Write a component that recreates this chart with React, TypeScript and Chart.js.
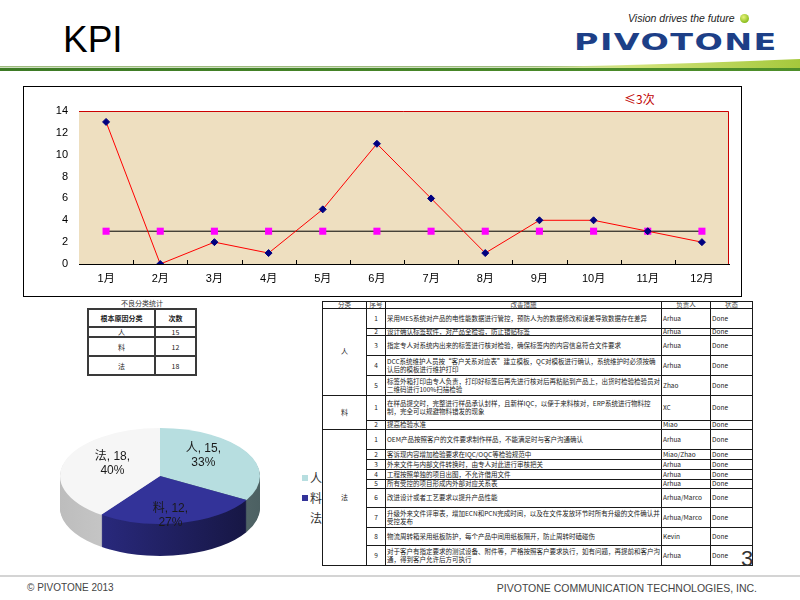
import React, { useEffect, useRef } from "react";
import { Chart, registerables } from "chart.js";
Chart.register(...registerables);

// ---------------- data ----------------
const months = ["1月", "2月", "3月", "4月", "5月", "6月", "7月", "8月", "9月", "10月", "11月", "12月"];
const defectCounts = [13, 0, 2, 1, 5, 11, 6, 1, 4, 4, 3, 2];
const targetCounts = [3, 3, 3, 3, 3, 3, 3, 3, 3, 3, 3, 3];
const targetLabel = "≤3次";
const defectLabel = "不良次数";
const yMin = 0;
const yMax = 14;
const yStep = 2;

const causeCategories = ["人", "料", "法"];
const causeCounts = [15, 12, 18];
const summaryTitle = "不良分类统计";
const summaryHeader = ["根本原因分类", "次数"];

const actionHeader = ["分类", "序号", "改善措施", "负责人", "状态"];
const actionGroupSizes = [5, 2, 9];
const actionNos = ["1", "2", "3", "4", "5", "1", "2", "1", "2", "3", "4", "5", "6", "7", "8", "9"];
const actionTexts = [
  "采用MES系统对产品的电性能数据进行管控，预防人为的数据修改和误差导致数据存在差异",
  "设计确认标签软件，对产品全检验，防止错贴标签",
  "指定专人对系统内出来的标签进行核对检验，确保标签内的内容信息符合文件要求",
  "DCC系统维护人员按“客户关系对应表”建立模板，QC对模板进行确认，系统维护时必须按确认后的模板进行维护打印",
  "标签外箱打印由专人负责，打印好标签后再先进行核对后再粘贴到产品上，出货时检验检验员对二维码进行100%扫描检验",
  "在样品提交时，完整进行样品承认封样，且新样IQC，以便于来料核对，ERP系统进行物料控制，完全可以规避物料错发的现象",
  "提高检验水准",
  "OEM产品按照客户的文件要求制作样品，不能满足时与客户沟通确认",
  "客诉现内容增加检验要求在IQC/OQC等检验规范中",
  "外来文件与内部文件转换时，由专人对此进行审核把关",
  "工程按照单独的项目出图，不允许借用文件",
  "所有受控的项目形成内外部对应关系表",
  "改进设计或者工艺要求以提升产品性能",
  "升级外来文件评审表，增加ECN和PCN完成时间，以及在文件发放环节时所有升级的文件确认并受控发布",
  "物流周转箱采用纸板防护，每个产品中间用纸板隔开，防止周转时磕碰伤",
  "对于客户有指定要求的测试设备、附件等，严格按照客户要求执行，如有问题，再提前和客户沟通，得到客户允许后方可执行",
];
const actionOwners = [
  "Arhua", "Arhua", "Arhua", "Arhua", "Zhao",
  "XC", "Miao",
  "Arhua", "Miao/Zhao", "Arhua", "Arhua", "Arhua", "Arhua/Marco", "Arhua/Marco", "Kevin", "Arhua",
];
const actionStatus = [
  "Done", "Done", "Done", "Done", "Done",
  "Done", "Done",
  "Done", "Done", "Done", "Done", "Done", "Done", "Done", "Done", "Done",
];

// ---------------- styles / layout ----------------
const SANS = '"Liberation Sans", Arial, "Noto Sans CJK SC", sans-serif';
const CJK = '"Noto Sans CJK SC", "Liberation Sans", sans-serif';
const PLOT_BG = "#EEDFC0";
const PIE_TOP = ["#B7DEE0", "#333399", "#F6F6F6"];
const PIE_SIDE_L = ["#7F9A9C", "#2E2E8C", "#BDBDBD"];
const PIE_SIDE_R = ["#4C6062", "#15153F", "#E2E2E2"];
const PIE_TILT = 0.48;
const PIE_DEPTH = 32;

const BT_X = [322, 367, 386, 662, 711, 753];
const BT_TOP = 301;
const BT_ROWH = [7, 20, 7, 20, 20, 20, 25, 9, 20, 10, 10, 10, 9, 19, 20, 18, 20];
const ST_X = [87, 156, 197];
const ST_Y = [308, 328, 338, 357, 376];

function LineChart() {
  const ref = useRef<HTMLCanvasElement>(null);
  useEffect(() => {
    const plotBg = {
      id: "plotBg",
      beforeDatasetsDraw(chart: any) {
        const { ctx, chartArea: a } = chart;
        ctx.save();
        ctx.fillStyle = PLOT_BG;
        ctx.fillRect(a.left, a.top, a.right - a.left, a.bottom - a.top);
        ctx.strokeStyle = "#CC0000";
        ctx.lineWidth = 1;
        ctx.beginPath();
        ctx.moveTo(a.left, a.top + 0.5);
        ctx.lineTo(a.right - 0.5, a.top + 0.5);
        ctx.lineTo(a.right - 0.5, a.bottom);
        ctx.stroke();
        // inward tick marks at category boundaries
        const xs = chart.scales.x;
        ctx.strokeStyle = "#000";
        ctx.beginPath();
        for (let i = 1; i < months.length; i++) {
          const px = Math.round(xs.getPixelForValue(i - 0.5)) + 0.5;
          ctx.moveTo(px, a.bottom);
          ctx.lineTo(px, a.bottom - 4);
        }
        ctx.stroke();
        ctx.restore();
      },
    };
    const chart = new Chart(ref.current!, {
      type: "line",
      data: {
        labels: months,
        datasets: [
          {
            label: defectLabel,
            data: defectCounts,
            borderColor: "#FF0000",
            borderWidth: 1,
            pointStyle: "rectRot",
            pointRadius: 3.5,
            pointBackgroundColor: "#000080",
            pointBorderColor: "#000080",
            pointBorderWidth: 1,
            tension: 0,
            fill: false,
          },
          {
            label: targetLabel,
            data: targetCounts,
            borderColor: "#000000",
            borderWidth: 1,
            pointStyle: "rect",
            pointRadius: 5,
            pointBackgroundColor: "#FF00FF",
            pointBorderColor: "#FF00FF",
            pointBorderWidth: 0,
            tension: 0,
            fill: false,
          },
        ],
      },
      options: {
        animation: false,
        responsive: false,
        devicePixelRatio: 1,
        layout: { padding: { top: 24, right: 12, left: 0, bottom: 0 } },
        plugins: { legend: { display: false }, tooltip: { enabled: false } },
        scales: {
          x: {
            offset: true,
            grid: { display: false, drawTicks: false },
            border: { display: true, color: "#000", width: 1 },
            ticks: { color: "#000", font: { size: 11, family: SANS }, padding: 8, maxRotation: 0, autoSkip: false },
            afterFit: (s: any) => { s.height = 32; },
          },
          y: {
            min: yMin,
            max: yMax,
            ticks: { stepSize: yStep, color: "#000", font: { size: 11, family: SANS }, padding: 11 },
            grid: { display: false, drawTicks: false },
            border: { display: true, color: "#000", width: 1 },
            afterFit: (s: any) => { s.width = 55; },
          },
        },
      } as any,
      plugins: [plotBg],
    });
    return () => chart.destroy();
  }, []);
  return <canvas ref={ref} width={717} height={209} style={{ display: "block" }} />;
}

function PieChart() {
  const ref = useRef<HTMLCanvasElement>(null);
  useEffect(() => {
    const total = causeCounts.reduce((a, b) => a + b, 0);
    const pie3d = {
      id: "pie3d",
      beforeDatasetsDraw(chart: any) {
        const ctx = chart.ctx;
        const arcs = chart.getDatasetMeta(0).data;
        ctx.save();
        if (!arcs.length) return;
        const c = arcs[0].getProps(["x", "y", "outerRadius"], true);
        for (let d = PIE_DEPTH; d >= 1; d--) {
          ctx.save();
          ctx.translate(0, c.y + d);
          ctx.scale(1, PIE_TILT);
          ctx.translate(0, -c.y);
          arcs.forEach((arc: any, i: number) => {
            const p = arc.getProps(["startAngle", "endAngle"], true);
            ctx.beginPath();
            ctx.moveTo(c.x, c.y);
            ctx.arc(c.x, c.y, c.outerRadius, p.startAngle, p.endAngle);
            ctx.closePath();
            const g = ctx.createLinearGradient(c.x - c.outerRadius, 0, c.x + c.outerRadius, 0);
            g.addColorStop(0, PIE_SIDE_L[i]);
            g.addColorStop(1, PIE_SIDE_R[i]);
            ctx.fillStyle = g;
            ctx.fill();
          });
          ctx.restore();
        }
        ctx.translate(0, c.y);
        ctx.scale(1, PIE_TILT);
        ctx.translate(0, -c.y);
      },
      afterDatasetsDraw(chart: any) {
        const ctx = chart.ctx;
        ctx.restore();
        const arcs = chart.getDatasetMeta(0).data;
        if (!arcs.length) return;
        const c = arcs[0].getProps(["x", "y", "outerRadius"], true);
        ctx.save();
        ctx.font = `12px ${SANS}`;
        ctx.textAlign = "center";
        ctx.textBaseline = "middle";
        arcs.forEach((arc: any, i: number) => {
          const p = arc.getProps(["startAngle", "endAngle"], true);
          const mid = (p.startAngle + p.endAngle) / 2;
          const lx = c.x + Math.cos(mid) * c.outerRadius * 0.5;
          const ly = c.y + Math.sin(mid) * c.outerRadius * PIE_TILT * 0.85;
          const pct = Math.round((causeCounts[i] / total) * 100);
          ctx.fillStyle = "#1a1a1a";
          ctx.fillText(`${causeCategories[i]}, ${causeCounts[i]},`, lx, ly - 7);
          ctx.fillText(`${pct}%`, lx, ly + 7);
        });
        ctx.restore();
      },
    };
    const chart = new Chart(ref.current!, {
      type: "pie",
      data: {
        labels: causeCategories,
        datasets: [{ data: causeCounts, backgroundColor: PIE_TOP, borderWidth: 0 }],
      },
      options: {
        animation: false,
        responsive: false,
        devicePixelRatio: 1,
        layout: { padding: 0 },
        plugins: { legend: { display: false }, tooltip: { enabled: false } },
      } as any,
      plugins: [pie3d],
    });
    return () => chart.destroy();
  }, []);
  return <canvas ref={ref} width={200} height={200} style={{ display: "block" }} />;
}

function ActionTable() {
  const cells: any[] = [];
  const line = "1px solid #1a1a1a";
  const base: any = {
    position: "absolute",
    boxSizing: "border-box",
    borderRight: line,
    borderBottom: line,
    display: "flex",
    alignItems: "center",
    overflow: "hidden",
    fontSize: 6.5,
    lineHeight: "7.6px",
    color: "#222",
    fontFamily: CJK,
  };
  let y = BT_TOP;
  actionHeader.forEach((h, c) =>
    cells.push(
      <div
        key={"h" + c}
        style={{
          ...base,
          left: BT_X[c],
          top: y,
          width: BT_X[c + 1] - BT_X[c],
          height: BT_ROWH[0] + 1,
          justifyContent: "center",
          borderTop: line,
          borderLeft: c === 0 ? line : undefined,
          color: "#444",
        }}
      >
        {h}
      </div>
    )
  );
  y += BT_ROWH[0] + 1;
  let r = 0;
  actionGroupSizes.forEach((n, g) => {
    let gh = 0;
    for (let k = 0; k < n; k++) gh += BT_ROWH[1 + r + k];
    cells.push(
      <div
        key={"g" + g}
        style={{ ...base, left: BT_X[0], top: y, width: BT_X[1] - BT_X[0], height: gh, justifyContent: "center", borderLeft: line, fontSize: 7 }}
      >
        {causeCategories[g]}
      </div>
    );
    let yy = y;
    for (let k = 0; k < n; k++) {
      const row = r + k;
      const h = BT_ROWH[1 + row];
      cells.push(
        <div key={"n" + row} style={{ ...base, left: BT_X[1], top: yy, width: BT_X[2] - BT_X[1], height: h, justifyContent: "center" }}>
          {actionNos[row]}
        </div>
      );
      cells.push(
        <div key={"t" + row} style={{ ...base, left: BT_X[2], top: yy, width: BT_X[3] - BT_X[2], height: h, paddingLeft: 1 }}>
          {actionTexts[row]}
        </div>
      );
      cells.push(
        <div key={"o" + row} style={{ ...base, left: BT_X[3], top: yy, width: BT_X[4] - BT_X[3], height: h, paddingLeft: 1 }}>
          {actionOwners[row]}
        </div>
      );
      cells.push(
        <div key={"s" + row} style={{ ...base, left: BT_X[4], top: yy, width: BT_X[5] - BT_X[4], height: h, paddingLeft: 1 }}>
          {actionStatus[row]}
        </div>
      );
      yy += h;
    }
    y += gh;
    r += n;
  });
  return <>{cells}</>;
}

function SummaryTable() {
  const line = "2px solid #3a3a3a";
  const base: any = {
    position: "absolute",
    boxSizing: "border-box",
    borderRight: line,
    borderBottom: line,
    display: "flex",
    alignItems: "center",
    justifyContent: "center",
    fontSize: 7,
    lineHeight: "8px",
    color: "#222",
    fontFamily: CJK,
  };
  const cells: any[] = [];
  summaryHeader.forEach((h, c) =>
    cells.push(
      <div
        key={"sh" + c}
        style={{
          ...base,
          left: ST_X[c],
          top: ST_Y[0],
          width: ST_X[c + 1] - ST_X[c],
          height: ST_Y[1] - ST_Y[0],
          borderTop: line,
          borderLeft: c === 0 ? line : undefined,
          fontWeight: "bold",
        }}
      >
        {h}
      </div>
    )
  );
  causeCategories.forEach((cat, i) => {
    cells.push(
      <div key={"sc" + i} style={{ ...base, left: ST_X[0], top: ST_Y[i + 1], width: ST_X[1] - ST_X[0], height: ST_Y[i + 2] - ST_Y[i + 1], borderLeft: line }}>
        {cat}
      </div>
    );
    cells.push(
      <div key={"sv" + i} style={{ ...base, left: ST_X[1], top: ST_Y[i + 1], width: ST_X[2] - ST_X[1], height: ST_Y[i + 2] - ST_Y[i + 1] }}>
        {causeCounts[i]}
      </div>
    );
  });
  return (
    <>
      <div style={{ position: "absolute", left: ST_X[0], width: ST_X[2] - ST_X[0], top: 299, height: 9, textAlign: "center", fontSize: 7, lineHeight: "9px", color: "#333", fontFamily: CJK }}>
        {summaryTitle}
      </div>
      {cells}
    </>
  );
}

export default function App() {
  return (
    <div style={{ position: "fixed", left: 0, top: 0, width: 800, height: 600, background: "#fff", overflow: "hidden", fontFamily: SANS }}>
      {/* header */}
      <div style={{ position: "absolute", left: 63, top: 21, fontSize: 37, lineHeight: "37px", color: "#000", fontFamily: SANS }}>KPI</div>
      <div style={{ position: "absolute", left: 628, top: 12, fontSize: 10.5, lineHeight: "12px", fontStyle: "italic", color: "#222", fontFamily: '"Liberation Sans Narrow", "Liberation Sans", sans-serif' }}>
        Vision drives the future
      </div>
      <div style={{ position: "absolute", left: 740, top: 14, width: 9, height: 9, borderRadius: "50%", background: "radial-gradient(circle at 40% 35%, #E8F27A, #8BBE1E 70%, #5E9A12)" }} />
      <div style={{ position: "absolute", left: 574, top: 30, fontSize: 23, lineHeight: "24px", fontWeight: "bold", color: "#1D3F87", fontFamily: '"DejaVu Sans", sans-serif', letterSpacing: 1, transform: "scaleX(1.45)", transformOrigin: "left top" }}>
        PIVOTONE
      </div>
      <svg width={800} height={80} style={{ position: "absolute", left: 0, top: 0 }}>
        <defs>
          <linearGradient id="sw" x1="0" y1="0" x2="1" y2="0">
            <stop offset="0" stopColor="#E4EEB0" stopOpacity="0" />
            <stop offset="0.5" stopColor="#D2E37A" />
            <stop offset="1" stopColor="#A5C83C" />
          </linearGradient>
          <linearGradient id="dl" x1="0" y1="0" x2="1" y2="0">
            <stop offset="0" stopColor="#3D7A25" />
            <stop offset="1" stopColor="#4E8F2A" />
          </linearGradient>
        </defs>
        <rect x={0} y={66} width={800} height={1.5} fill="#9DBB7E" />
        <path d="M 470 68 Q 640 66 800 59 L 800 69 Q 640 69.5 470 68 Z" fill="url(#sw)" />
        <rect x={0} y={68} width={800} height={3} fill="url(#dl)" />
      </svg>

      {/* line chart box */}
      <div style={{ position: "absolute", left: 23, top: 86, width: 717, height: 209, border: "1px solid #000" }}>
        <LineChart />
      </div>
      <div style={{ position: "absolute", left: 620, top: 88, width: 64, height: 23, background: "#fff" }}>
        <div style={{ position: "absolute", left: 4, top: 4, fontSize: 12, lineHeight: "14px", color: "#C00000", fontFamily: CJK }}>{targetLabel}</div>
      </div>

      {/* tables */}
      <SummaryTable />
      <ActionTable />

      {/* pie */}
      <div style={{ position: "absolute", left: 60, top: 376, width: 200, height: 200 }}>
        <PieChart />
      </div>
      {causeCategories.map((cat, i) => (
        <div key={"lg" + i} style={{ position: "absolute", left: 302, top: 471 + i * 20, height: 14, display: "flex", alignItems: "center", fontSize: 12, lineHeight: "14px", color: "#333", fontFamily: CJK }}>
          <span style={{ display: "inline-block", width: 6, height: 6, background: PIE_TOP[i] === "#F6F6F6" ? "#FFFFFF" : PIE_TOP[i], marginRight: 2 }} />
          {cat}
        </div>
      ))}

      {/* page number & footer */}
      <div style={{ position: "absolute", left: 741, top: 548, fontSize: 22, lineHeight: "22px", color: "#333", fontFamily: SANS }}>3</div>
      <div style={{ position: "absolute", left: 0, top: 575, width: 800, height: 2, background: "#D4D4D4" }} />
      <div style={{ position: "absolute", left: 27, top: 582, fontSize: 10, lineHeight: "12px", color: "#444", fontFamily: SANS }}>© PIVOTONE 2013</div>
      <div style={{ position: "absolute", right: 43, top: 582, fontSize: 10.5, lineHeight: "12px", color: "#444", fontFamily: SANS }}>PIVOTONE COMMUNICATION TECHNOLOGIES, INC.</div>
    </div>
  );
}
